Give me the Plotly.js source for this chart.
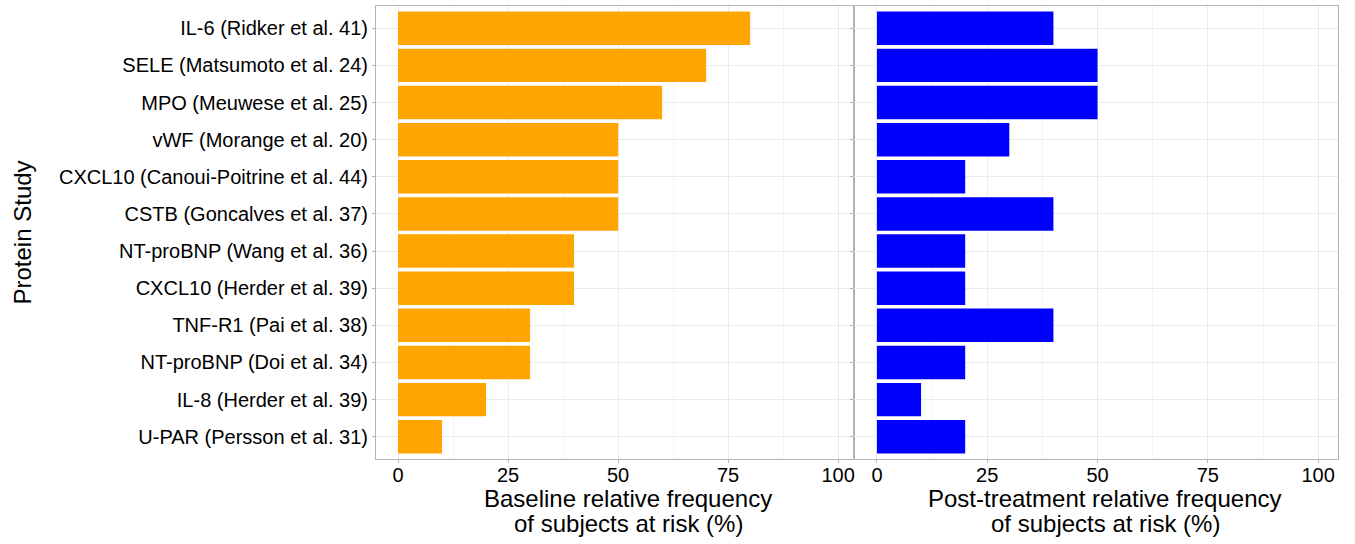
<!DOCTYPE html>
<html><head><meta charset="utf-8">
<script src="https://cdn.plot.ly/plotly-3.0.1.min.js"></script>
<style>body{margin:0;padding:0;background:#fff}#chart{width:1355px;height:544px}</style>
</head><body><div id="chart"></div>
<script>
const studies = [
  "IL-6 (Ridker et al. 41)",
  "SELE (Matsumoto et al. 24)",
  "MPO (Meuwese et al. 25)",
  "vWF (Morange et al. 20)",
  "CXCL10 (Canoui-Poitrine et al. 44)",
  "CSTB (Goncalves et al. 37)",
  "NT-proBNP (Wang et al. 36)",
  "CXCL10 (Herder et al. 39)",
  "TNF-R1 (Pai et al. 38)",
  "NT-proBNP (Doi et al. 34)",
  "IL-8 (Herder et al. 39)",
  "U-PAR (Persson et al. 31)"
];
const baseline = [80, 70, 60, 50, 50, 50, 40, 40, 30, 30, 20, 10];
const postTreatment = [40, 50, 50, 30, 20, 40, 20, 20, 40, 20, 10, 20];
const xTicks = [0, 25, 50, 75, 100];
const baselineTitle = ["Baseline relative frequency", "of subjects at risk (%)"];
const postTitle = ["Post-treatment relative frequency", "of subjects at risk (%)"];

const font = {family: "Liberation Sans, Arial, sans-serif", color: "#000"};
const idx = studies.map((s, i) => i);

const traces = [
  {type: "bar", orientation: "h", x: baseline, y: idx, xaxis: "x", yaxis: "y",
   marker: {color: "#FFA500", line: {width: 0}}, width: 0.9, showlegend: false},
  {type: "bar", orientation: "h", x: postTreatment, y: idx, xaxis: "x2", yaxis: "y2",
   marker: {color: "#0000FF", line: {width: 0}}, width: 0.9, showlegend: false}
];

const xCommon = {
  tickvals: xTicks, ticktext: xTicks.map(String),
  ticks: "outside", ticklen: 3, tickcolor: "#b3b3b3", tickwidth: 1,
  ticklabelstandoff: -5,
  showgrid: true, gridcolor: "#ebebeb", gridwidth: 1,
  minor: {tickvals: [12.5, 37.5, 62.5, 87.5], showgrid: true, gridcolor: "#f5f5f5", gridwidth: 1, ticks: ""},
  showline: true, mirror: true, linecolor: "#b3b3b3", linewidth: 1,
  zeroline: false, tickfont: Object.assign({size: 20}, font), fixedrange: true
};
const yCommon = {
  range: [11.6, -0.6], tickvals: idx, ticktext: studies,
  ticks: "outside", ticklen: 3, tickcolor: "#b3b3b3", tickwidth: 1,
  showgrid: true, gridcolor: "#ebebeb", gridwidth: 1,
  showline: true, mirror: true, linecolor: "#b3b3b3", linewidth: 1,
  zeroline: false, tickfont: Object.assign({size: 20}, font), fixedrange: true
};

const L = 376, W = 962, T = 6, H = 453;
const px = v => (v - L) / W;
const py = v => (T + H - v) / H;
const titleFont = Object.assign({size: 24}, font);
const split = px(854);

const annotations = [];
[[baselineTitle, 628], [postTitle, 1105]].forEach(([lines, cx]) => {
  lines.forEach((t, k) => annotations.push({
    text: t, xref: "paper", yref: "paper", x: px(cx), y: py(498 + 25 * k),
    xanchor: "center", yanchor: "middle", showarrow: false, font: titleFont
  }));
});
annotations.push({text: "Protein Study", xref: "paper", yref: "paper",
  x: px(22), y: 0.5, xanchor: "center", yanchor: "middle", textangle: -90, showarrow: false, font: titleFont});

const layout = {
  width: 1355, height: 544,
  margin: {l: L, r: 1355 - L - W, t: T, b: 544 - T - H, pad: 0},
  paper_bgcolor: "#fff", plot_bgcolor: "#fff",
  font: font,
  xaxis: Object.assign({}, xCommon, {domain: [0, split], range: [-5, 103.6], anchor: "y"}),
  xaxis2: Object.assign({}, xCommon, {domain: [split, 1], range: [-5.2, 104.5], anchor: "y2"}),
  yaxis: Object.assign({}, yCommon, {anchor: "x", ticklabelstandoff: 0}),
  yaxis2: Object.assign({}, yCommon, {anchor: "x2", showticklabels: false, matches: "y"}),
  annotations: annotations
};

Plotly.newPlot("chart", traces, layout, {displayModeBar: false, staticPlot: true});
</script></body></html>
